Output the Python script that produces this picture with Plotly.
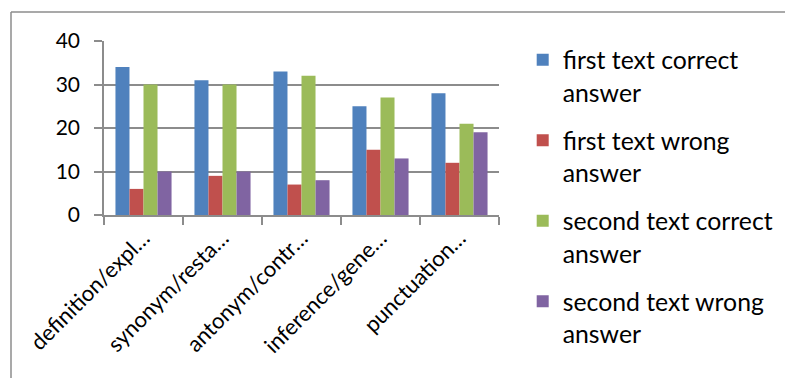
import plotly.graph_objects as go

categories = ["definition/expl…", "synonym/resta…", "antonym/contr…", "inference/gene…", "punctuation…"]
series_names = ["first text correct<br>answer", "first text wrong<br>answer",
                "second text correct<br>answer", "second text wrong<br>answer"]
first_correct = [34, 31, 33, 25, 28]
first_wrong = [6, 9, 7, 15, 12]
second_correct = [30, 30, 32, 27, 21]
second_wrong = [10, 10, 8, 13, 19]
colors = ["#4F81BD", "#C0504D", "#9BBB59", "#8064A2"]
y_ticks = [0, 10, 20, 30, 40]

W, H = 785, 378
L, R, T, B = 104, 286, 41, 163
FONT = "Lato"

fig = go.Figure()
for i, (name, vals) in enumerate(zip(series_names,
                                     [first_correct, first_wrong, second_correct, second_wrong])):
    fig.add_trace(go.Bar(x=categories, y=vals, name=name, marker_color=colors[i],
                         marker_line_width=0, legendgroup=f"g{i}"))

fig.update_layout(
    width=W, height=H,
    margin=dict(l=L, r=R, t=T, b=B, pad=0, autoexpand=False),
    paper_bgcolor="white", plot_bgcolor="white",
    barmode="group", bargap=0.29, bargroupgap=0,
    font=dict(family=FONT, size=21, color="#000000"),
    showlegend=True,
    legend=dict(x=1.06, y=1.022, xanchor="left", yanchor="top",
                traceorder="grouped", tracegroupgap=13, valign="top",
                font=dict(family=FONT, size=24.8, color="#000000"),
                itemwidth=30, bgcolor="rgba(0,0,0,0)", maxheight=600),
)
fig.update_yaxes(range=[0, 40], tickvals=y_ticks, showgrid=True, gridcolor="#8C8C8C", gridwidth=1.5,
                 showline=True, linecolor="#8C8C8C", linewidth=1.5,
                 ticks="outside", ticklen=8, tickcolor="#8C8C8C", tickwidth=1.5,
                 ticklabelstandoff=10, zeroline=False,
                 tickfont=dict(family=FONT, size=21, color="#000000"))
fig.update_xaxes(showline=True, linecolor="#8C8C8C", linewidth=1.5,
                 ticks="outside", ticklen=8, tickcolor="#8C8C8C", tickwidth=1.5,
                 tickson="boundaries", tickangle=-45,
                 tickfont=dict(family=FONT, size=22, color="#000000"))

# outer chart border (top and left edges visible)
px = lambda v: (v - L) / (W - L - R)
py = lambda v: (H - B - v) / (H - T - B)
fig.add_shape(type="line", xref="paper", yref="paper", x0=px(11), x1=px(800), y0=py(12), y1=py(12),
              line=dict(color="#8C8C8C", width=1.5))
fig.add_shape(type="line", xref="paper", yref="paper", x0=px(11), x1=px(11), y0=py(12), y1=py(400),
              line=dict(color="#8C8C8C", width=1.5))

fig.write_html("out.html")
